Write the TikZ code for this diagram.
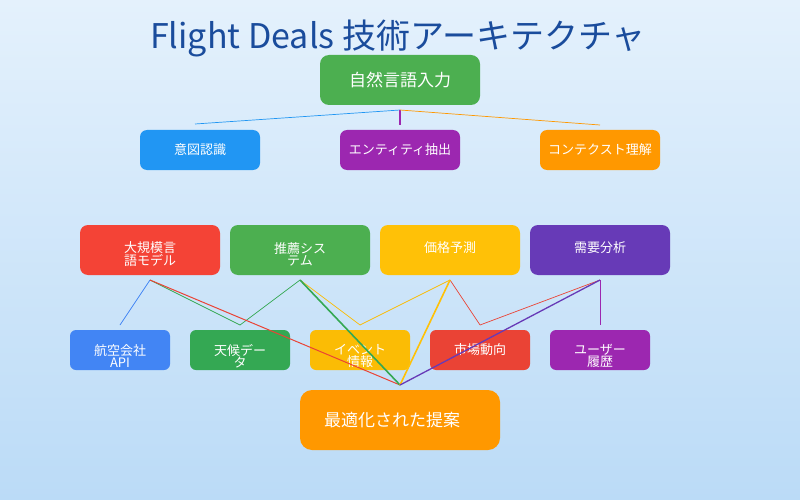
\documentclass[tikz,border=0pt]{standalone}
\usepackage{fontspec}
\setmainfont{Noto Sans CJK JP}
\newfontfamily\titlefont{Noto Sans CJK JP}
\definecolor{bgtop}{HTML}{E4F1FC}
\definecolor{bgbot}{HTML}{BBDBF7}
\definecolor{ttl}{HTML}{1A4C9C}
\definecolor{cgreen}{HTML}{4CAF50}
\definecolor{cblue}{HTML}{2196F3}
\definecolor{cpurple}{HTML}{9C27B0}
\definecolor{corange}{HTML}{FF9800}
\definecolor{cred}{HTML}{F44336}
\definecolor{camber}{HTML}{FFC107}
\definecolor{cdeep}{HTML}{673AB7}
\definecolor{gblue}{HTML}{4285F4}
\definecolor{ggreen}{HTML}{34A853}
\definecolor{gamber}{HTML}{FBBC05}
\definecolor{gred}{HTML}{EA4335}
\begin{document}
\begin{tikzpicture}[x=1pt,y=-1pt,
  box/.style={rounded corners=8pt,text=white,inner sep=0pt,font=\fontsize{13}{14}\selectfont},
  lk/.style={line width=0.7pt},
  bk/.style={line width=1.6pt}]
\shade[top color=bgtop,bottom color=bgbot] (0,0) rectangle (800,500);
\useasboundingbox (0,0) rectangle (800,500);
\node[text=ttl,font=\fontsize{34}{36}\selectfont] (title) at (398,38) {Flight Deals 技術アーキテクチャ};
\newcommand\bx[7]{\fill[#5,rounded corners=8pt] (#1,#2) rectangle (#3,#4);
  \node[text=white,align=center,font=#7] (#6) at ({(#1+#3)/2},{(#2+#4)/2}) {};}
% top
\fill[cgreen,rounded corners=9pt] (320,55) rectangle (480,105);
\node[text=white,font=\fontsize{17}{18}\selectfont] (nl) at (400,80) {自然言語入力};
\fill[cblue,rounded corners=7pt] (140,130) rectangle (260,170);
\node[text=white,font=\fontsize{13}{14}\selectfont] (ir) at (200,150) {意図認識};
\fill[cpurple,rounded corners=7pt] (340,130) rectangle (460,170);
\node[text=white,font=\fontsize{13}{14}\selectfont] (ee) at (400,150) {エンティティ抽出};
\fill[corange,rounded corners=7pt] (540,130) rectangle (660,170);
\node[text=white,font=\fontsize{13}{14}\selectfont] (cu) at (600,150) {コンテクスト理解};
\coordinate (nlb) at (400,110);
\coordinate (irt) at (195,124);
\coordinate (eet) at (400,125);
\coordinate (cut) at (600,125);
\draw[lk,cblue] (nlb) -- (irt);
\draw[line width=1.5pt,cpurple] (nlb) -- (eet);
\draw[lk,corange] (nlb) -- (cut);
% middle
\fill[cred,rounded corners=8pt] (80,225) rectangle (220,275);
\node[text=white,align=center,font=\fontsize{13}{12}\selectfont] (llm) at (150,254) {大規模言\\語モデル};
\fill[cgreen,rounded corners=8pt] (230,225) rectangle (370,275);
\node[text=white,align=center,font=\fontsize{13}{12}\selectfont] (rec) at (300,254) {推薦シス\\テム};
\fill[camber,rounded corners=8pt] (380,225) rectangle (520,275);
\node[text=white,font=\fontsize{13}{14}\selectfont] (pp) at (450,248) {価格予測};
\fill[cdeep,rounded corners=8pt] (530,225) rectangle (670,275);
\node[text=white,font=\fontsize{13}{14}\selectfont] (da) at (600,248) {需要分析};
% bottom row
\fill[gblue,rounded corners=6pt] (70,330) rectangle (170,370);
\node[text=white,align=center,font=\fontsize{13}{12}\selectfont] (api) at (120,356) {航空会社\\API};
\fill[ggreen,rounded corners=6pt] (190,330) rectangle (290,370);
\node[text=white,align=center,font=\fontsize{13}{12}\selectfont] (wd) at (240,356) {天候デー\\タ};
\fill[gamber,rounded corners=6pt] (310,330) rectangle (410,370);
\node[text=white,align=center,font=\fontsize{13}{12}\selectfont] (ev) at (360,356) {イベント\\情報};
\fill[gred,rounded corners=6pt] (430,330) rectangle (530,370);
\node[text=white,font=\fontsize{13}{14}\selectfont] (mt) at (480,350) {市場動向};
\fill[cpurple,rounded corners=6pt] (550,330) rectangle (650,370);
\node[text=white,align=center,font=\fontsize{13}{12}\selectfont] (uh) at (600,356) {ユーザー\\履歴};
% final
\fill[corange,rounded corners=12pt] (300,390) rectangle (500,450);
\node[text=white,font=\fontsize{17}{18}\selectfont] (fin) at (392,420) {最適化された提案};
% connector points
\coordinate (llmb) at (150,280);
\coordinate (recb) at (300,280);
\coordinate (ppb) at (450,280);
\coordinate (dab) at (600,280);
\coordinate (apit) at (120,325);
\coordinate (wdt) at (240,325);
\coordinate (evt) at (360,325);
\coordinate (mtt) at (480,325);
\coordinate (uht) at (600,325);
\coordinate (fint) at (400,385);
\draw[lk,gblue] (llmb) -- (apit);
\draw[lk,ggreen] (llmb) -- (wdt);
\draw[lk,ggreen] (recb) -- (wdt);
\draw[lk,gamber] (recb) -- (evt);
\draw[lk,gamber] (ppb) -- (evt);
\draw[lk,gred] (ppb) -- (mtt);
\draw[lk,gred] (dab) -- (mtt);
\draw[lk,cpurple] (dab) -- (uht);
\draw[line width=1pt,gred] (llmb) -- (fint);
\draw[bk,ggreen] (recb) -- (fint);
\draw[bk,camber] (ppb) -- (fint);
\draw[line width=1.3pt,cdeep] (dab) -- (fint);
\end{tikzpicture}
\end{document}
